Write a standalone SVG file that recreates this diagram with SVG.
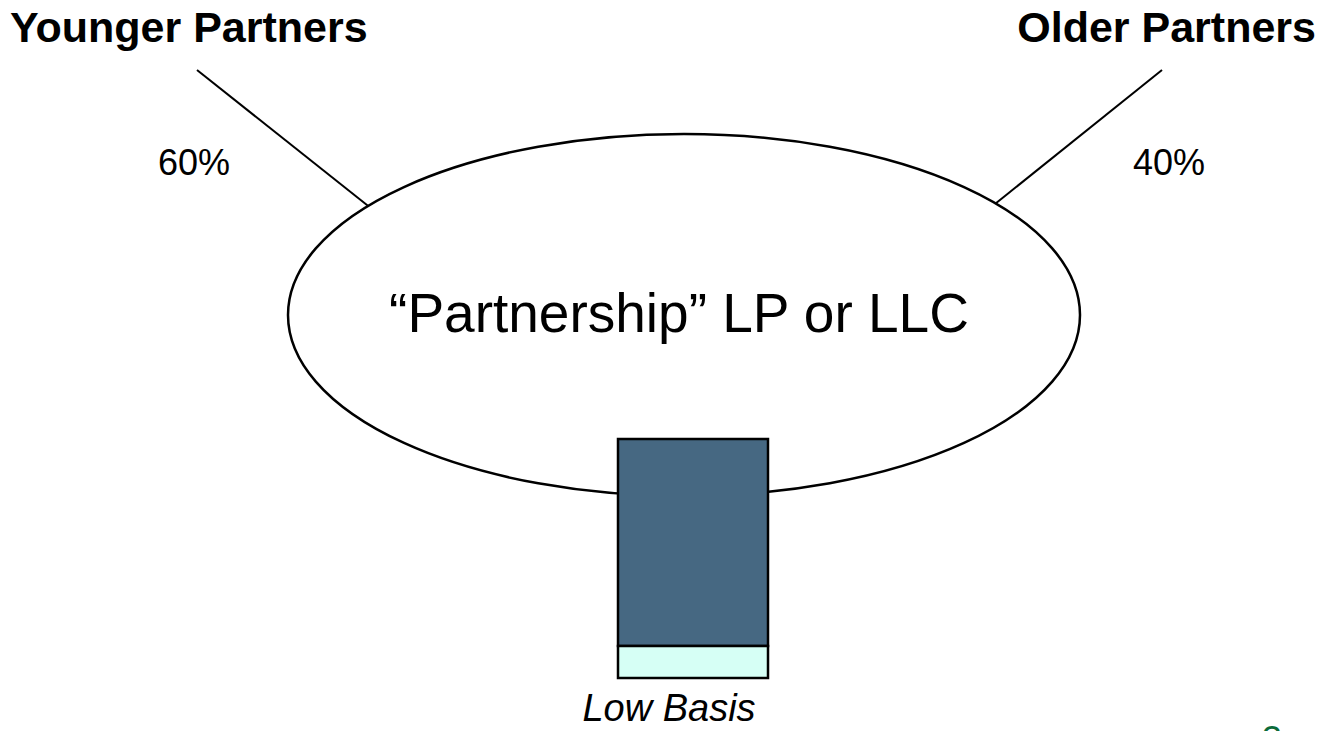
<svg xmlns="http://www.w3.org/2000/svg" width="1326" height="731" viewBox="0 0 1326 731">
<style>
.t{font-family:"Liberation Sans",Arial,sans-serif;fill:#000}
.h{font-weight:bold;font-size:43px}
.p{font-size:36px}
.ln{stroke:#000;stroke-width:2;fill:none}
</style>
<rect width="1326" height="731" fill="#fff"/>
<g id="connectors">
<line class="ln" x1="197" y1="70" x2="372" y2="209"/>
<line class="ln" x1="1162" y1="70" x2="990" y2="208"/>
</g>
<g id="younger"><text class="t h" x="10" y="42">Younger Partners</text></g>
<g id="older"><text class="t h" x="1316" y="42" text-anchor="end">Older Partners</text></g>
<g id="pct60"><text class="t p" x="158" y="175">60%</text></g>
<g id="pct40"><text class="t p" x="1205" y="175" text-anchor="end">40%</text></g>
<g id="partnership">
<ellipse cx="684" cy="315" rx="396" ry="181" fill="#fff" stroke="#000" stroke-width="2.5"/>
<text class="t" x="679" y="332" font-size="55" text-anchor="middle">“Partnership” LP or LLC</text>
</g>
<g id="asset">
<rect x="618" y="439" width="150" height="207" fill="#466882" stroke="#000" stroke-width="2.5"/>
<rect x="618" y="646" width="150" height="32" fill="#d6fff5" stroke="#000" stroke-width="2.5"/>
</g>
<g id="lowbasis"><text class="t" x="669" y="721" font-size="38" font-style="italic" text-anchor="middle">Low Basis</text></g>
<g id="pagenum"><text class="t" x="1262" y="752" font-size="36" style="fill:#0b6b3a">3</text></g>
</svg>
